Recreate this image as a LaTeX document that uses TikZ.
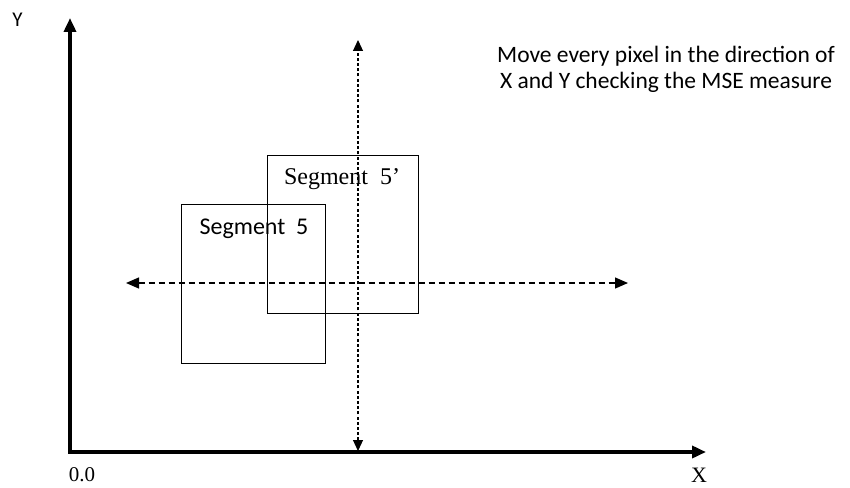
\documentclass[tikz,border=0pt]{standalone}
\usepackage{fontspec}
\usetikzlibrary{arrows.meta}
\newfontfamily\calib{Carlito}
\newfontfamily\tms{Liberation Serif}

\begin{document}
\begin{tikzpicture}[x=1pt, y=-1pt,
    axis/.style={line width=3.5pt, -{Triangle[length=14pt, width=12pt]}},
    lbl/.style={inner sep=0pt}]
    \useasboundingbox (0,0) rectangle (850,487);
    \coordinate (O) at (70,452);
    \coordinate (ytop) at (70,18);
    \coordinate (xend) at (706,452);
    \coordinate (vtop) at (358,40);
    \coordinate (vbot) at (358,451);
    \coordinate (hleft) at (126,283);
    \coordinate (hright) at (628,283);
    % segments
    \draw[line width=0.9pt] (181,204) rectangle (325,363);
    \draw[line width=0.9pt] (267,155) rectangle (418,313);
    \draw[axis] (O) -- (ytop);
    \draw[axis] ([xshift=-1.7pt]O) -- (xend);
    % search directions
    \draw[line width=1.2pt, dash pattern=on 3pt off 2.2pt,
        {Triangle[length=11pt, width=10pt]}-{Triangle[length=11pt, width=10pt]}] (vbot) -- (vtop);
    \draw[line width=1.2pt, dash pattern=on 6pt off 4pt,
        {Triangle[length=13pt, width=11pt]}-{Triangle[length=13pt, width=11pt]}] (hleft) -- (hright);
    % labels
    \node[lbl, node font=\calib\fontsize{21}{24}\selectfont] (ylab) at (17.5,20) {Y};
    \node[lbl, node font=\tms\fontsize{21}{24}\selectfont] (olab) at (82,475) {0.0};
    \node[lbl, node font=\tms\fontsize{22}{24}\selectfont] (xlab) at (699,475) {X};
    \node[lbl, node font=\calib\fontsize{24}{26}\selectfont] (s5) at (254,229) {Segment\ \ 5};
    \node[lbl, node font=\tms\fontsize{24}{26}\selectfont] (s5p) at (342,179) {Segment\ \ 5’};
    \node[lbl, align=center, node font=\calib\fontsize{23.5}{26}\selectfont] (note) at (666,69)
        {Move every pixel in the direction of\\X and Y checking the MSE measure};
\end{tikzpicture}
\end{document}
